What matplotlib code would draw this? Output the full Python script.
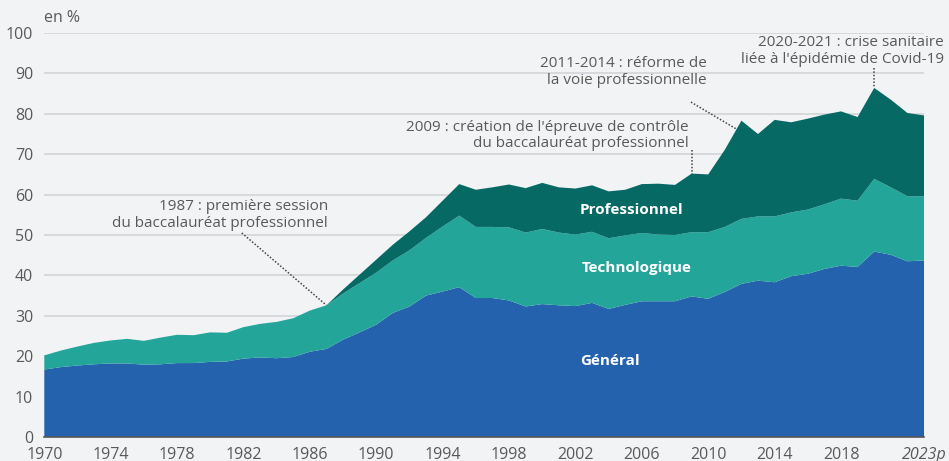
import matplotlib.pyplot as plt
import numpy as np

plt.rcParams['font.family'] = ['Open Sans', 'DejaVu Sans']

years = list(range(1970, 2024))

# cumulative tops (en %)
general = [16.7, 17.3, 17.7, 18.0, 18.2, 18.2, 17.9, 18.0, 18.3, 18.3,
           18.6, 18.7, 19.4, 19.7, 19.5, 19.8, 21.1, 21.8, 24.1, 25.9,
           27.8, 30.7, 32.3, 35.0, 36.0, 37.1, 34.4, 34.4, 33.8, 32.3,
           32.9, 32.6, 32.4, 33.2, 31.7, 32.7, 33.6, 33.6, 33.6, 34.8,
           34.2, 35.9, 37.9, 38.7, 38.3, 39.8, 40.4, 41.6, 42.4, 42.1,
           45.9, 45.1, 43.5, 43.7]
techno_top = [20.2, 21.4, 22.4, 23.3, 23.9, 24.3, 23.8, 24.6, 25.3, 25.2,
              25.9, 25.8, 27.2, 28.0, 28.5, 29.4, 31.3, 32.6, 35.5, 38.1,
              40.7, 43.7, 46.2, 49.3, 52.1, 54.8, 52.0, 52.0, 51.9, 50.6,
              51.5, 50.6, 50.1, 50.8, 49.2, 49.9, 50.5, 50.1, 50.0, 50.7,
              50.7, 52.0, 54.0, 54.6, 54.6, 55.6, 56.3, 57.6, 59.0, 58.5,
              63.9, 61.8, 59.6, 59.6]
total = [20.2, 21.4, 22.4, 23.3, 23.9, 24.3, 23.8, 24.6, 25.3, 25.2,
         25.9, 25.8, 27.2, 28.0, 28.5, 29.4, 31.3, 32.6, 36.5, 40.2,
         43.9, 47.6, 50.9, 54.4, 58.5, 62.6, 61.2, 61.8, 62.5, 61.6,
         62.9, 61.8, 61.5, 62.3, 60.8, 61.2, 62.6, 62.7, 62.4, 65.2,
         65.0, 71.1, 78.3, 75.0, 78.5, 77.9, 78.8, 79.8, 80.6, 79.2,
         86.4, 83.5, 80.2, 79.6]

technologique = np.array(techno_top) - np.array(general)
professionnel = np.array(total) - np.array(techno_top)

tick_years = [1970, 1974, 1978, 1982, 1986, 1990, 1994, 1998, 2002, 2006,
              2010, 2014, 2018, 2023]
tick_labels = ['1970', '1974', '1978', '1982', '1986', '1990', '1994', '1998',
               '2002', '2006', '2010', '2014', '2018', '2023p']

bg = '#f2f3f5'
grey = '#595959'
colors = ['#2462ae', '#23a699', '#066964']

fig = plt.figure(figsize=(9.49, 4.61), dpi=100, facecolor=bg)
ax = fig.add_axes([44.3 / 949, 24 / 461, 879.7 / 949, 404 / 461])
ax.set_facecolor(bg)

ax.stackplot(years, general, technologique, professionnel,
             colors=colors, linewidth=0, zorder=2)

ax.set_xlim(1970, 2023)
ax.set_ylim(0, 100)
ax.set_yticks(range(0, 101, 10))
ax.yaxis.grid(True, color='#d2d4d8', linewidth=1.2, zorder=0)
ax.set_axisbelow(True)
ax.set_xticks(tick_years)
ax.set_xticklabels(tick_labels)
ax.get_xticklabels()[-1].set_style('italic')
ax.tick_params(length=0, labelsize=11.5, colors=grey)
ax.tick_params(axis='x', pad=7)
ax.tick_params(axis='y', pad=8)
for s in ['top', 'right', 'left']:
    ax.spines[s].set_visible(False)
ax.spines['bottom'].set_color('#555555')
ax.spines['bottom'].set_linewidth(1.2)
ax.spines['bottom'].set_zorder(3)

fig.text(44.3 / 949, 1 - 18 / 461, 'en %', fontsize=11.5, color=grey,
         ha='left', va='center')

# series labels
ax.text(2005.4, 56.2, 'Professionnel', color='white', fontsize=11,
        fontweight='bold', ha='center', va='center')
ax.text(2005.7, 41.9, 'Technologique', color='white', fontsize=11,
        fontweight='bold', ha='center', va='center')
ax.text(2004.1, 18.7, 'Général', color='white', fontsize=11,
        fontweight='bold', ha='center', va='center')

# annotations
notes = [
    ('1987 : première session\ndu baccalauréat professionnel',
     (1987.1, 55.0), (1981.9, 50.5), (1987, 32.6)),
    ("2009 : création de l'épreuve de contrôle\ndu baccalauréat professionnel",
     (2008.8, 74.6), (2009, 71.1), (2009, 65.2)),
    ('2011-2014 : réforme de\nla voie professionnelle',
     (2009.9, 90.4), (2008.96, 82.9), (2011.75, 76.1)),
    ("2020-2021 : crise sanitaire\nliée à l'épidémie de Covid-19",
     (2024.2, 95.5), (2020, 91.4), (2020, 86.4)),
]
for txt, pos, start, end in notes:
    ax.text(pos[0], pos[1], txt, fontsize=11, color=grey, ha='right',
            va='center', multialignment='right', linespacing=1.15, zorder=5)
    ax.plot([start[0], end[0]], [start[1], end[1]], color='#444444',
            linestyle=(0, (1, 1.2)), linewidth=1.1, zorder=5, clip_on=False)

fig.savefig('out.png', dpi=100, facecolor=bg)
